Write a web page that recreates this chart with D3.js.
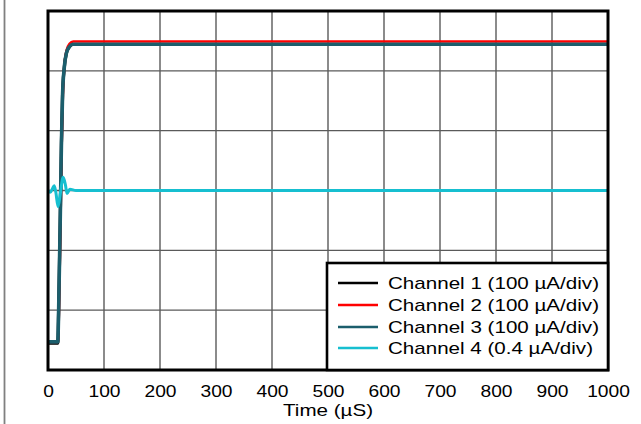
<!DOCTYPE html>
<html>
<head>
<meta charset="utf-8">
<script src="https://cdn.jsdelivr.net/npm/d3@7"></script>
<style>
  html, body { margin: 0; padding: 0; background: #fff; }
  svg { display: block; }
  text { font-family: "Liberation Sans", Arial, sans-serif; fill: #000; }
</style>
</head>
<body>
<script>
// ---- Data (time in µs, amplitude in screen divisions 0..6) ----
const xTicks = [0, 100, 200, 300, 400, 500, 600, 700, 800, 900, 1000];
const yDivs = [0, 1, 2, 3, 4, 5, 6];

const ch1Time = [0, 17.5, 19, 22, 24, 26, 29, 33, 38, 44, 1000];
const ch1Val  = [0.45, 0.45, 1.0, 2.6, 3.8, 4.6, 5.05, 5.3, 5.4, 5.44, 5.44];

const ch2Time = [0, 18, 19.5, 22.5, 24.5, 26.5, 29.5, 33.5, 38.5, 45, 1000];
const ch2Val  = [0.47, 0.47, 1.0, 2.6, 3.8, 4.6, 5.1, 5.35, 5.45, 5.49, 5.49];

const ch3Time = [0, 17.5, 19, 22, 24, 26, 29, 33, 38, 44, 1000];
const ch3Val  = [0.47, 0.47, 1.0, 2.6, 3.8, 4.6, 5.05, 5.3, 5.4, 5.445, 5.445];

const ch4Time = [0, 4, 8, 11, 14, 18, 22, 27, 31, 34, 39, 50, 1000];
const ch4Val  = [3.0, 2.97, 3.03, 3.08, 2.97, 2.73, 2.95, 3.22, 3.1, 2.95, 3.02, 3.0, 3.0];

const legendLabels = ["Channel 1 (100 \u00B5A/div)", "Channel 2 (100 \u00B5A/div)",
                      "Channel 3 (100 \u00B5A/div)", "Channel 4 (0.4 \u00B5A/div)"];
const seriesColors = ["#000000", "#ff0000", "#1b5e6c", "#16bfd0"];
const xTitle = "Time (\u00B5S)";

// ---- Layout ----
const W = 641, H = 424;
const mLeft = 48, mRight = 608, mTop = 11, mBottom = 370;

const svg = d3.select("body").append("svg").attr("width", W).attr("height", H);

// left outer gray rule
svg.append("line").attr("x1", 4.5).attr("x2", 4.5).attr("y1", 0).attr("y2", H)
  .attr("stroke", "#808080").attr("stroke-width", 1.8);

const x = d3.scaleLinear().domain([0, 1000]).range([mLeft, mRight]);
const y = d3.scaleLinear().domain([0, 6]).range([mBottom, mTop]);

// grid
const grid = svg.append("g");
grid.selectAll("line.v").data(xTicks.slice(1, -1)).enter().append("line")
  .attr("x1", d => x(d)).attr("x2", d => x(d)).attr("y1", mTop).attr("y2", mBottom)
  .attr("stroke", "#5a5a5a").attr("stroke-width", 1.4);
grid.selectAll("line.h").data(yDivs.slice(1, -1)).enter().append("line")
  .attr("x1", mLeft).attr("x2", mRight).attr("y1", d => y(d)).attr("y2", d => y(d))
  .attr("stroke", "#5a5a5a").attr("stroke-width", 1.4);

// traces
const series = [
  [ch1Time, ch1Val, 3.2],
  [ch2Time, ch2Val, 2.6],
  [ch3Time, ch3Val, 3.6],
  [ch4Time, ch4Val, 3.0]
];
const line = d3.line().x(d => x(d[0])).y(d => y(d[1])).curve(d3.curveMonotoneX);
series.forEach((s, i) => {
  const pts = s[0].map((t, j) => [t, s[1][j]]);
  svg.append("path").datum(pts)
    .attr("d", line)
    .attr("fill", "none").attr("stroke", seriesColors[i])
    .attr("stroke-width", s[2]).attr("stroke-linejoin", "round");
});

// frame
svg.append("rect").attr("x", mLeft).attr("y", mTop).attr("width", mRight - mLeft).attr("height", mBottom - mTop)
  .attr("fill", "none").attr("stroke", "#000").attr("stroke-width", 3);

// x axis tick labels
const xAxis = d3.axisBottom(x).tickValues(xTicks).tickSize(0).tickPadding(0).tickFormat(d3.format("d"));
const ax = svg.append("g").attr("transform", `translate(0,${mBottom})`).call(xAxis);
ax.select(".domain").remove();
ax.selectAll("text").attr("dy", null).attr("y", 27).attr("font-size", 17)
  .attr("font-family", "'Liberation Sans', Arial, sans-serif").attr("fill", "#000")
  .each(function() {
    const w = this.getComputedTextLength();
    d3.select(this).attr("textLength", w * 1.13).attr("lengthAdjust", "spacingAndGlyphs");
  });

// x title
const tt = svg.append("text").attr("x", (mLeft + mRight) / 2).attr("y", 416)
  .attr("text-anchor", "middle").attr("font-size", 17).text(xTitle);
tt.attr("textLength", 90).attr("lengthAdjust", "spacingAndGlyphs");

// legend
const lg = svg.append("g");
lg.append("rect").attr("x", 327).attr("y", 263).attr("width", mRight - 327).attr("height", mBottom - 263)
  .attr("fill", "#fff").attr("stroke", "#000").attr("stroke-width", 2.6);
const rowY = [283, 305, 327, 348];
legendLabels.forEach((lab, i) => {
  lg.append("line").attr("x1", 338).attr("x2", 378).attr("y1", rowY[i]).attr("y2", rowY[i])
    .attr("stroke", seriesColors[i]).attr("stroke-width", 2.6);
  const t = lg.append("text").attr("x", 388).attr("y", rowY[i] + 6).attr("font-size", 17).text(lab);
  t.attr("textLength", i === 3 ? 205 : 211).attr("lengthAdjust", "spacingAndGlyphs");
});
</script>
</body>
</html>
